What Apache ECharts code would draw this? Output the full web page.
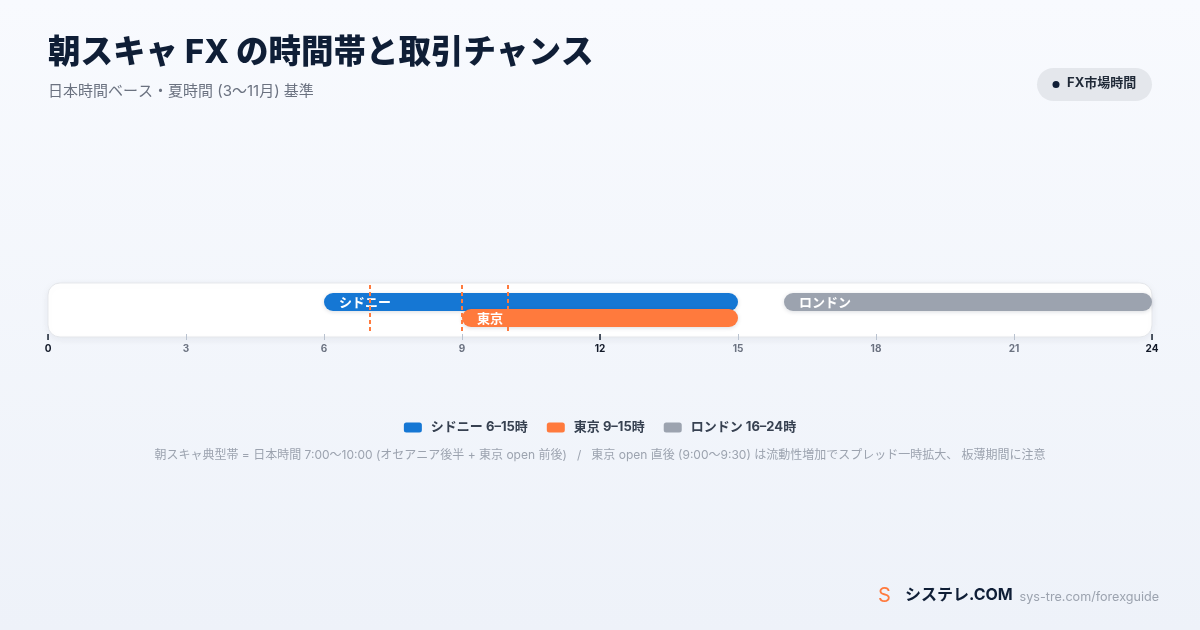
<!DOCTYPE html>
<html><head><meta charset="utf-8">
<script src="https://cdn.jsdelivr.net/npm/echarts@6/dist/echarts.min.js"></script>
<style>html,body{margin:0;padding:0;}#c{width:1200px;height:630px;}</style>
</head><body><div id="c"></div>
<script>
const FONT = "Inter, 'Noto Sans CJK JP', sans-serif";
const sessionNames = ['シドニー', '東京', 'ロンドン'];
const sessionHours = ['6–15時', '9–15時', '16–24時'];
const sessionStart = [6, 9, 16];
const sessionEnd = [15, 15, 24];
const sessionRow = [1, 2, 1];
const sessionColors = ['#1577d4', '#ff7a3d', '#9ca3af'];
const markerHours = [7, 9, 10];
const axisMin = 0, axisMax = 24, axisStep = 3, majorStep = 12;

const chart = echarts.init(document.getElementById('c'));

function makeRender(i) {
  return function (params, api) {
    const s = api.coord([api.value(0), api.value(2)]);
    const e = api.coord([api.value(1), api.value(2)]);
    const h = 18;
    return {
      type: 'group',
      children: [
        { type: 'rect', shape: { x: s[0], y: s[1] - h / 2, width: e[0] - s[0], height: h, r: 9 },
          style: { fill: sessionColors[i], shadowBlur: 4, shadowOffsetY: 1, shadowColor: 'rgba(15,30,54,0.15)' } },
        { type: 'text', style: { text: sessionNames[i], x: s[0] + 15, y: s[1] + 1, verticalAlign: 'middle',
          fill: '#ffffff', font: 'bold 13px ' + FONT } }
      ]
    };
  };
}

const series = sessionNames.map((n, i) => ({
  type: 'custom',
  name: n + ' ' + sessionHours[i],
  xAxisIndex: 0, yAxisIndex: 0,
  color: sessionColors[i],
  renderItem: makeRender(i),
  data: [[sessionStart[i], sessionEnd[i], sessionRow[i]]],
  z: 3 + i
}));
series[0].markLine = {
  silent: true, symbol: 'none', label: { show: false },
  lineStyle: { color: '#ff7a3d', type: [4, 3], width: 2 },
  data: markerHours.map(h => ({ xAxis: h })),
  z: 10
};

chart.setOption({
  backgroundColor: { type: 'linear', x: 0, y: 0, x2: 0, y2: 1,
    colorStops: [{ offset: 0, color: '#f8fafe' }, { offset: 1, color: '#eef2f9' }] },
  textStyle: { fontFamily: FONT },
  grid: { left: 48, right: 48, top: 285, height: 49 },
  xAxis: [
    { type: 'value', min: axisMin, max: axisMax, interval: axisStep, position: 'bottom', z: 5,
      splitLine: { show: false },
      axisLine: { show: true, onZero: false, lineStyle: { color: 'rgba(0,0,0,0)' } },
      axisTick: { show: true, length: 6, lineStyle: { color: '#b9c2cf', width: 1 } },
      axisLabel: { margin: 10, fontSize: 10, fontWeight: 'bold', color: '#6b7280', fontFamily: FONT,
        formatter: v => (v % majorStep === 0 ? '' : String(v)) } },
    { type: 'value', min: axisMin, max: axisMax, interval: majorStep, position: 'bottom', z: 6,
      splitLine: { show: false },
      axisLine: { show: true, onZero: false, lineStyle: { color: 'rgba(0,0,0,0)' } },
      axisTick: { show: true, length: 6, lineStyle: { color: '#1f2937', width: 1.5 } },
      axisLabel: { margin: 10, fontSize: 10, fontWeight: 'bold', color: '#111827', fontFamily: FONT } }
  ],
  yAxis: { type: 'value', min: -0.0625, max: 3, inverse: true, show: false },
  legend: {
    top: 416, left: 'center', icon: 'roundRect', itemWidth: 18, itemHeight: 10, itemGap: 19,
    textStyle: { fontSize: 13, fontWeight: 'bold', color: '#374151', fontFamily: FONT, padding: [0, 0, 0, 4] },
    data: series.map(s => s.name)
  },
  graphic: [
    { type: 'rect', z: -1, shape: { x: 48, y: 283, width: 1104, height: 54, r: 12 },
      style: { fill: '#ffffff', stroke: '#e5e7eb', lineWidth: 1, shadowBlur: 8, shadowOffsetY: 2, shadowColor: 'rgba(15,30,54,0.06)' } },
    { type: 'text', left: 48, top: 37, style: { text: '朝スキャ FX の時間帯と取引チャンス', fill: '#0f1e36', font: '800 32.5px ' + FONT } },
    { type: 'text', left: 48, top: 84, style: { text: '日本時間ベース・夏時間 (3〜11月) 基準', fill: '#6b7280', font: '15px ' + FONT } },
    { type: 'rect', shape: { x: 1037, y: 68, width: 115, height: 33, r: 16.5 }, style: { fill: '#e4e7ec' } },
    { type: 'circle', shape: { cx: 1056, cy: 84.5, r: 3.5 }, style: { fill: '#0f1e36' } },
    { type: 'text', left: 1067, top: 77, style: { text: 'FX市場時間', fill: '#1f2937', font: 'bold 13px ' + FONT } },
    { type: 'text', left: 'center', top: 449, style: { text: '朝スキャ典型帯 = 日本時間 7:00〜10:00 (オセアニア後半 + 東京 open 前後)   /   東京 open 直後 (9:00〜9:30) は流動性増加でスプレッド一時拡大、 板薄期間に注意', fill: '#9ca3af', font: '12px ' + FONT } },
    { type: 'text', left: 878, top: 586, style: { text: 'S', fill: '#ff7a3d', font: '20px ' + FONT } },
    { type: 'text', left: 905, top: 587, style: { text: 'システレ.COM', fill: '#0f1e36', font: 'bold 16px ' + FONT } },
    { type: 'text', right: 41, top: 591, style: { text: 'sys-tre.com/forexguide', fill: '#9ca3af', font: '12.6px ' + FONT } }
  ],
  series: series
});
</script></body></html>
